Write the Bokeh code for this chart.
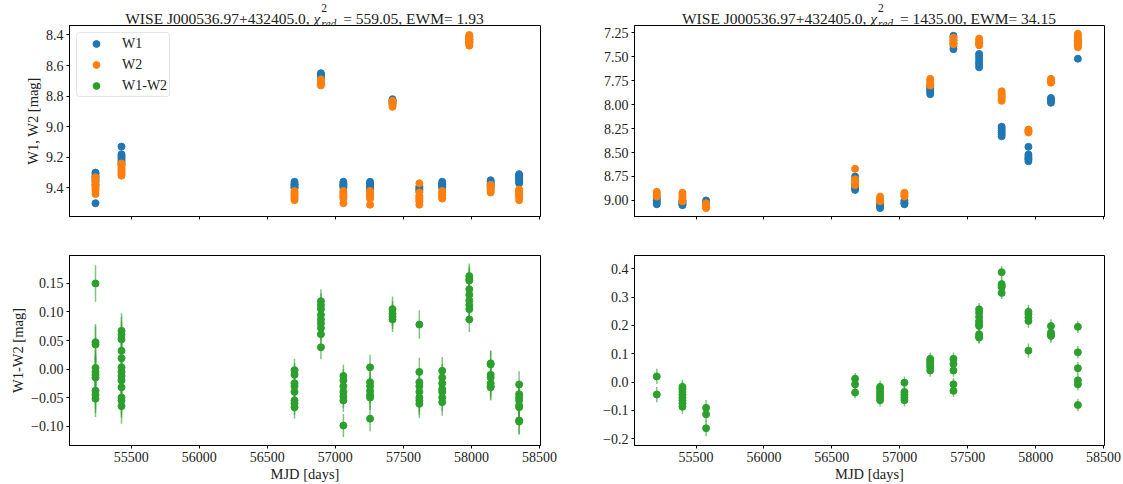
import numpy as np
from bokeh.plotting import figure
from bokeh.models import (Range1d, FixedTicker, CustomJSTickFormatter, Div,
                          Legend, LegendItem)
from bokeh.layouts import column, row
from bokeh.embed import file_html
from bokeh.resources import INLINE

FONT = "Liberation Serif"
TXT = "#222222"
C_W1, C_W2, C_C = "#1f77b4", "#ff7f0e", "#2ca02c"

# ---------------- data: left object ----------------
mjd_left = [55238, 55429, 56700, 56894, 57059, 57255, 57420, 57617, 57785, 57984, 58141, 58350]
w1_left = [
    [9.30, 9.31, 9.32, 9.33, 9.34, 9.35, 9.36, 9.38, 9.50],
    [9.13, 9.18, 9.19, 9.20, 9.21, 9.22, 9.23, 9.24, 9.25],
    [9.36, 9.37, 9.38, 9.38, 9.39, 9.40, 9.40],
    [8.65, 8.66, 8.66, 8.67, 8.67, 8.68, 8.69],
    [9.36, 9.37, 9.38, 9.38, 9.39, 9.40],
    [9.36, 9.37, 9.38, 9.39, 9.40, 9.41],
    [8.82, 8.83, 8.83, 8.84, 8.85],
    [9.39, 9.40, 9.41, 9.42],
    [9.36, 9.37, 9.38, 9.38, 9.39, 9.40],
    [8.41, 8.42, 8.43, 8.44, 8.45],
    [9.35, 9.36, 9.37, 9.38, 9.39, 9.40],
    [9.31, 9.32, 9.33, 9.34, 9.35, 9.36, 9.37],
]
w2_left = [
    [9.33, 9.35, 9.37, 9.38, 9.39, 9.40, 9.41, 9.42, 9.44],
    [9.24, 9.25, 9.26, 9.27, 9.28, 9.29, 9.30, 9.31, 9.32],
    [9.42, 9.43, 9.44, 9.45, 9.46, 9.47, 9.48],
    [8.69, 8.70, 8.70, 8.71, 8.72, 8.73],
    [9.42, 9.43, 9.44, 9.45, 9.46, 9.47, 9.50],
    [9.42, 9.43, 9.44, 9.45, 9.46, 9.47, 9.51],
    [8.83, 8.84, 8.85, 8.86, 8.87],
    [9.37, 9.43, 9.45, 9.46, 9.47, 9.48, 9.49, 9.51],
    [9.42, 9.43, 9.44, 9.45, 9.46, 9.47],
    [8.40, 8.41, 8.42, 8.43, 8.44, 8.45, 8.46, 8.47],
    [9.38, 9.39, 9.40, 9.41, 9.42, 9.43],
    [9.41, 9.42, 9.43, 9.44, 9.45, 9.46, 9.48],
]
col_left = [
    [0.150, 0.047, 0.043, 0.002, -0.005, -0.010, -0.015, -0.038, -0.045, -0.052],
    [0.067, 0.060, 0.052, 0.032, 0.019, 0.003, -0.005, -0.012, -0.020, -0.032, -0.050, -0.055, -0.065],
    [-0.002, -0.010, -0.025, -0.030, -0.040, -0.055, -0.060, -0.067],
    [0.119, 0.112, 0.105, 0.095, 0.087, 0.080, 0.072, 0.061, 0.038],
    [-0.012, -0.020, -0.030, -0.040, -0.048, -0.055, -0.099],
    [0.003, -0.023, -0.030, -0.038, -0.045, -0.050, -0.087],
    [0.105, 0.097, 0.092, 0.087],
    [0.078, -0.005, -0.023, -0.030, -0.040, -0.050, -0.055, -0.061],
    [-0.003, -0.015, -0.025, -0.035, -0.040, -0.050, -0.058],
    [0.163, 0.158, 0.155, 0.140, 0.130, 0.120, 0.112, 0.105, 0.087],
    [0.010, 0.008, -0.010, -0.015, -0.025, -0.030, -0.032],
    [-0.027, -0.044, -0.050, -0.055, -0.064, -0.067, -0.090, -0.092],
]
col_err_left = [0.032, 0.031, 0.020, 0.021, 0.020, 0.022, 0.022, 0.025, 0.024, 0.022, 0.023, 0.023]
mag_err_left = 0.012

# ---------------- data: right object ----------------
mjd_right = [55211, 55400, 55574, 56671, 56855, 57034, 57224, 57395, 57584, 57750, 57947, 58113, 58311]
w1_right = [
    [8.98, 9.00, 9.02, 9.04],
    [9.00, 9.01, 9.02, 9.03, 9.04, 9.05],
    [9.00, 9.02, 9.04, 9.06],
    [8.75, 8.85, 8.87, 8.89],
    [9.03, 9.05, 9.06, 9.08],
    [9.00, 9.02, 9.03, 9.04],
    [7.81, 7.83, 7.85, 7.87, 7.89],
    [7.28, 7.30, 7.33, 7.36, 7.39, 7.42],
    [7.47, 7.50, 7.53, 7.56, 7.58, 7.61],
    [8.23, 8.25, 8.27, 8.29, 8.31, 8.33],
    [8.44, 8.52, 8.54, 8.56, 8.57, 8.59],
    [7.93, 7.95, 7.96, 7.98],
    [7.33, 7.35, 7.38, 7.52],
]
w2_right = [
    [8.91, 8.93, 8.95, 8.96],
    [8.92, 8.94, 8.96, 8.98, 9.00, 9.01],
    [9.03, 9.05, 9.06, 9.08],
    [8.67, 8.78, 8.80, 8.82, 8.84],
    [8.96, 8.98, 9.00, 9.01],
    [8.92, 8.93, 8.95, 8.96],
    [7.73, 7.75, 7.77, 7.79, 7.80],
    [7.30, 7.32, 7.34, 7.36, 7.37],
    [7.31, 7.33, 7.35, 7.36, 7.38],
    [7.86, 7.88, 7.90, 7.92, 7.94, 7.96],
    [8.26, 8.27, 8.28, 8.29],
    [7.73, 7.75, 7.76, 7.77],
    [7.26, 7.28, 7.30, 7.33, 7.36, 7.38, 7.40],
]
col_right = [
    [0.020, -0.044],
    [-0.017, -0.025, -0.035, -0.045, -0.055, -0.065, -0.075, -0.087],
    [-0.091, -0.114, -0.163],
    [0.012, -0.008, -0.037],
    [-0.017, -0.025, -0.035, -0.045, -0.055, -0.064],
    [-0.002, -0.035, -0.045, -0.055, -0.064],
    [0.082, 0.075, 0.068, 0.060, 0.052, 0.041],
    [0.082, 0.064, 0.041, -0.008, -0.031],
    [0.257, 0.245, 0.230, 0.215, 0.205, 0.198, 0.169, 0.160, 0.157],
    [0.388, 0.346, 0.340, 0.335, 0.315],
    [0.248, 0.240, 0.228, 0.216, 0.111],
    [0.198, 0.175, 0.168, 0.163],
    [0.195, 0.105, 0.049, 0.006, -0.008, -0.081],
]
col_err_right = [0.027, 0.025, 0.028, 0.020, 0.022, 0.022, 0.022, 0.022, 0.022, 0.022, 0.025, 0.024, 0.022]
mag_err_right = 0.015

x_ticks = [55500, 56000, 56500, 57000, 57500, 58000, 58500]
y_ticks_tl = [8.4, 8.6, 8.8, 9.0, 9.2, 9.4]
y_ticks_tr = [7.25, 7.50, 7.75, 8.00, 8.25, 8.50, 8.75, 9.00]
y_ticks_bl = [-0.10, -0.05, 0.00, 0.05, 0.10, 0.15]
y_ticks_br = [-0.2, -0.1, 0.0, 0.1, 0.2, 0.3, 0.4]

name = "WISE J000536.97+432405.0"
chi2_left, ewm_left = "559.05", "1.93"
chi2_right, ewm_right = "1435.00", "34.15"


def flatten(mjd, groups, errs):
    xs, ys, es = [], [], []
    for m, g, e in zip(mjd, groups, errs):
        xs += [m] * len(g)
        ys += list(g)
        es += [e] * len(g)
    return np.array(xs, float), np.array(ys, float), np.array(es, float)


def fmt(decimals):
    return CustomJSTickFormatter(args=dict(d=decimals),
                                 code="return tick.toFixed(d).replace('-', '\u2212');")


def make_fig(width, height, bl, br, bt, bb, yr, yticks, ydec, show_x, ylabel):
    p = figure(width=width, height=height, x_range=Range1d(55047, 58507),
               y_range=Range1d(*yr), output_backend="svg", toolbar_location=None,
               min_border_left=bl, min_border_right=br, min_border_top=bt,
               min_border_bottom=bb)
    p.grid.visible = False
    p.outline_line_color = "black"
    p.outline_line_width = 1
    p.outline_line_alpha = 1
    p.background_fill_color = "white"
    p.border_fill_color = "white"
    for ax in p.axis:
        ax.axis_line_color = "black"
        ax.major_tick_line_color = "black"
        ax.major_tick_out = 3
        ax.major_tick_in = 0
        ax.minor_tick_out = 0
        ax.minor_tick_in = 0
        ax.major_label_text_font = FONT
        ax.major_label_text_font_size = "14px"
        ax.major_label_text_color = TXT
        ax.axis_label_text_font = FONT
        ax.axis_label_text_font_size = "14.5px"
        ax.axis_label_text_color = TXT
        ax.axis_label_text_font_style = "normal"
    p.xaxis.ticker = FixedTicker(ticks=x_ticks)
    p.yaxis.ticker = FixedTicker(ticks=yticks)
    p.yaxis.formatter = fmt(ydec)
    p.yaxis.major_label_standoff = 3
    p.yaxis.axis_label_standoff = 2
    if show_x:
        p.xaxis.formatter = fmt(0)
        p.xaxis.major_label_standoff = 3
        p.xaxis.axis_label_standoff = 1
        p.xaxis.axis_label = "MJD [days]"
    else:
        p.xaxis.formatter = CustomJSTickFormatter(code="return '';")
        p.xaxis.major_label_standoff = 0
    if ylabel:
        p.yaxis.axis_label = ylabel
    return p


def errbar(p, x, y, e, color, alpha=0.6):
    seg = p.segment(x0=x, y0=y - e, x1=x, y1=y + e, line_color=color,
                    line_width=1.5, line_alpha=alpha)
    sc = p.scatter(x=x, y=y, size=7, marker="circle", fill_color=color,
                   line_color=color)
    return seg, sc


def title_div(width, cx, chi2, ewm):
    base = ("position:absolute; top:10.8px; left:%.1fpx; transform:translateX(-50%%);"
            "white-space:nowrap; font-family:'%s'; font-size:15.5px; line-height:15.5px;"
            "color:%s;" % (cx, FONT, TXT))
    small = "position:relative; font-size:11.5px; line-height:11.5px;"
    html = (
        '<div style="%s">%s, <i>\u03c7</i>'
        '<span style="%s top:-12.3px; margin-left:1px;">2</span>'
        '<span style="%s top:4px; font-style:italic; margin-left:-5.75px;">red</span>'
        '<span style="margin-left:3px;"> = %s, EWM= %s</span></div>'
    ) % (base, name, small, small, chi2, ewm)
    return Div(text=html, width=width, height=24, margin=0,
               styles={"position": "relative", "overflow": "visible"})


# ---------------- top-left ----------------
p1 = make_fig(560, 216, 69, 20, 1, 24, (9.587, 8.338), y_ticks_tl, 1, False, "W1, W2 [mag]")
x, y, e = flatten(mjd_left, w1_left, [mag_err_left] * len(mjd_left))
s1a, s1b = errbar(p1, x, y, e, C_W1)
x, y, e = flatten(mjd_left, w2_left, [mag_err_left] * len(mjd_left))
s2a, s2b = errbar(p1, x, y, e, C_W2)
# legend glyphs: W1-W2 values lie far outside this panel's range, so only the legend shows them
xc, yc, ec = flatten(mjd_left, col_left, col_err_left)
def leg_bar(p, color):
    return p.scatter(x=xc, y=yc, marker="dash", angle=np.pi / 2, size=7,
                     line_color=color, line_width=1.5, line_alpha=0.6)
lb1 = leg_bar(p1, C_W1)
lb2 = leg_bar(p1, C_W2)
lb3 = leg_bar(p1, C_C)
lc3 = p1.scatter(x=xc, y=yc, size=7, marker="circle", fill_color=C_C, line_color=C_C)
legend = Legend(items=[LegendItem(label="W1", renderers=[lb1, s1b]),
                       LegendItem(label="W2", renderers=[lb2, s2b]),
                       LegendItem(label="W1-W2", renderers=[lb3, lc3])],
                location="top_left", margin=7, padding=2, spacing=4,
                glyph_width=34, glyph_height=17, label_height=17,
                label_standoff=9, label_text_font=FONT,
                label_text_font_size="14px", label_text_color=TXT,
                border_line_color="#cccccc", border_line_width=1,
                background_fill_alpha=0.8)
if "border_radius" in Legend.properties():
    legend.border_radius = 4
p1.add_layout(legend)

# ---------------- top-right ----------------
p2 = make_fig(563, 216, 74, 19, 1, 24, (9.168, 7.173), y_ticks_tr, 2, False, None)
x, y, e = flatten(mjd_right, w1_right, [mag_err_right] * len(mjd_right))
errbar(p2, x, y, e, C_W1)
x, y, e = flatten(mjd_right, w2_right, [mag_err_right] * len(mjd_right))
errbar(p2, x, y, e, C_W2)

# ---------------- bottom-left ----------------
p3 = make_fig(560, 244, 69, 20, 15, 39, (-0.134, 0.199), y_ticks_bl, 2, True, "W1-W2 [mag]")
x, y, e = flatten(mjd_left, col_left, col_err_left)
errbar(p3, x, y, e, C_C)

# ---------------- bottom-right ----------------
p4 = make_fig(563, 244, 74, 19, 15, 39, (-0.224, 0.447), y_ticks_br, 1, True, None)
x, y, e = flatten(mjd_right, col_right, col_err_right)
errbar(p4, x, y, e, C_C)

d1 = title_div(560, 304.5, chi2_left, ewm_left)
d2 = title_div(563, 309.0, chi2_right, ewm_right)

layout = column(row(d1, d2), row(p1, p2), row(p3, p4))
open("out.html", "w").write(file_html(layout, INLINE))
